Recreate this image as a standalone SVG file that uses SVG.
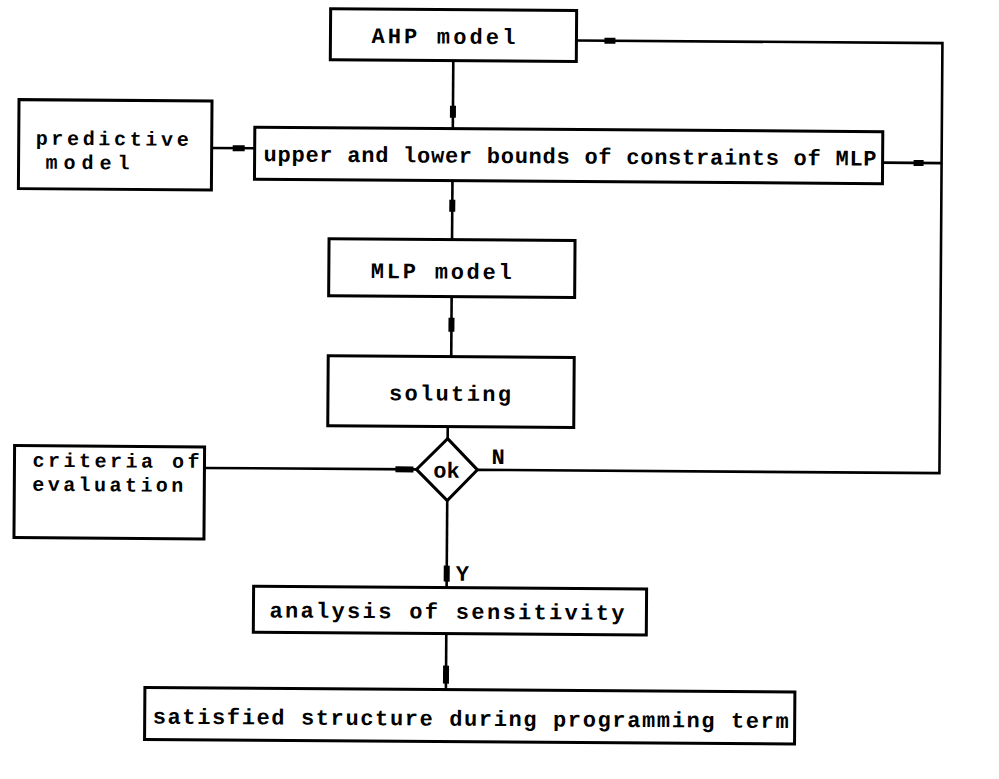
<svg xmlns="http://www.w3.org/2000/svg" width="999" height="779" viewBox="0 0 999 779">
  <style>
    .box { fill: #fff; stroke: #000; stroke-width: 3; }
    .ln { fill: none; stroke: #000; stroke-width: 2.6; }
    .hd { fill: none; stroke: #000; stroke-width: 6; }
    text { font-family: "Liberation Mono", "DejaVu Sans Mono", monospace; font-size: 22px; font-weight: bold; fill: #000; }
    .two { font-size: 20px; }
  </style>
  <rect width="999" height="779" fill="#fff"/>
  <!-- whole sheet sits slightly skewed, as typed -->
  <g transform="rotate(0.4 500 390)">
    <g id="connectors">
      <!-- feedback loop: N branch back up to the AHP model and the bounds box -->
      <path class="ln" d="M574,40 H940 V470 H478"/>
      <path class="ln" d="M881,160 H940"/>
      <!-- main vertical flow -->
      <path class="ln" d="M451,61 V128"/>
      <path class="ln" d="M451,181 V240"/>
      <path class="ln" d="M451,297 V357"/>
      <path class="ln" d="M448,427 V439"/>
      <path class="ln" d="M448,501 V588"/>
      <path class="ln" d="M448,634 V690"/>
      <!-- side inputs -->
      <path class="ln" d="M210,150 H253"/>
      <path class="ln" d="M205,470 H417"/>
      <!-- arrow marks -->
      <path class="hd" d="M602,40 H613"/>
      <path class="hd" d="M451,106 V118"/>
      <path class="hd" d="M231,150 H243"/>
      <path class="hd" d="M912,160 H922"/>
      <path class="hd" d="M451,200 V212"/>
      <path class="hd" d="M451,318 V332"/>
      <path class="hd" d="M396,470 H414"/>
      <path class="hd" d="M448,566 V582"/>
      <path class="hd" d="M448,666 V684"/>
    </g>

    <g id="ahp">
      <rect class="box" x="328" y="10" width="246" height="51"/>
      <text x="369" y="44" textLength="144" lengthAdjust="spacing">AHP model</text>
    </g>

    <g id="predictive">
      <rect class="box" x="17" y="103" width="193" height="89"/>
      <text class="two" x="34" y="148" textLength="153" lengthAdjust="spacing">predictive</text>
      <text class="two" x="44" y="172" textLength="84" lengthAdjust="spacing">model</text>
    </g>

    <g id="bounds">
      <rect class="box" x="253" y="129" width="628" height="52"/>
      <text x="262" y="163" textLength="613" lengthAdjust="spacing">upper and lower bounds of constraints of MLP</text>
    </g>

    <g id="mlp">
      <rect class="box" x="328" y="240" width="246" height="57"/>
      <text x="370" y="279" textLength="141" lengthAdjust="spacing">MLP model</text>
    </g>

    <g id="soluting">
      <rect class="box" x="328" y="357" width="246" height="70"/>
      <text x="389" y="401" textLength="122" lengthAdjust="spacing">soluting</text>
    </g>

    <g id="ok">
      <path class="box" d="M448,439 L478,470 L448,501 L417,470 Z"/>
      <text x="447" y="478" text-anchor="middle">ok</text>
      <text x="492" y="464">N</text>
      <text x="457" y="581">Y</text>
    </g>

    <g id="criteria">
      <rect class="box" x="15" y="449" width="190" height="92"/>
      <text class="two" x="33" y="470" textLength="167" lengthAdjust="spacing">criteria of</text>
      <text class="two" x="33" y="494" textLength="151" lengthAdjust="spacing">evaluation</text>
    </g>

    <g id="sensitivity">
      <rect class="box" x="255" y="588" width="393" height="46"/>
      <text x="271" y="619" textLength="355" lengthAdjust="spacing">analysis of sensitivity</text>
    </g>

    <g id="result">
      <rect class="box" x="147" y="690" width="650" height="52"/>
      <text x="155" y="726" textLength="636" lengthAdjust="spacing">satisfied structure during programming term</text>
    </g>
  </g>
</svg>
